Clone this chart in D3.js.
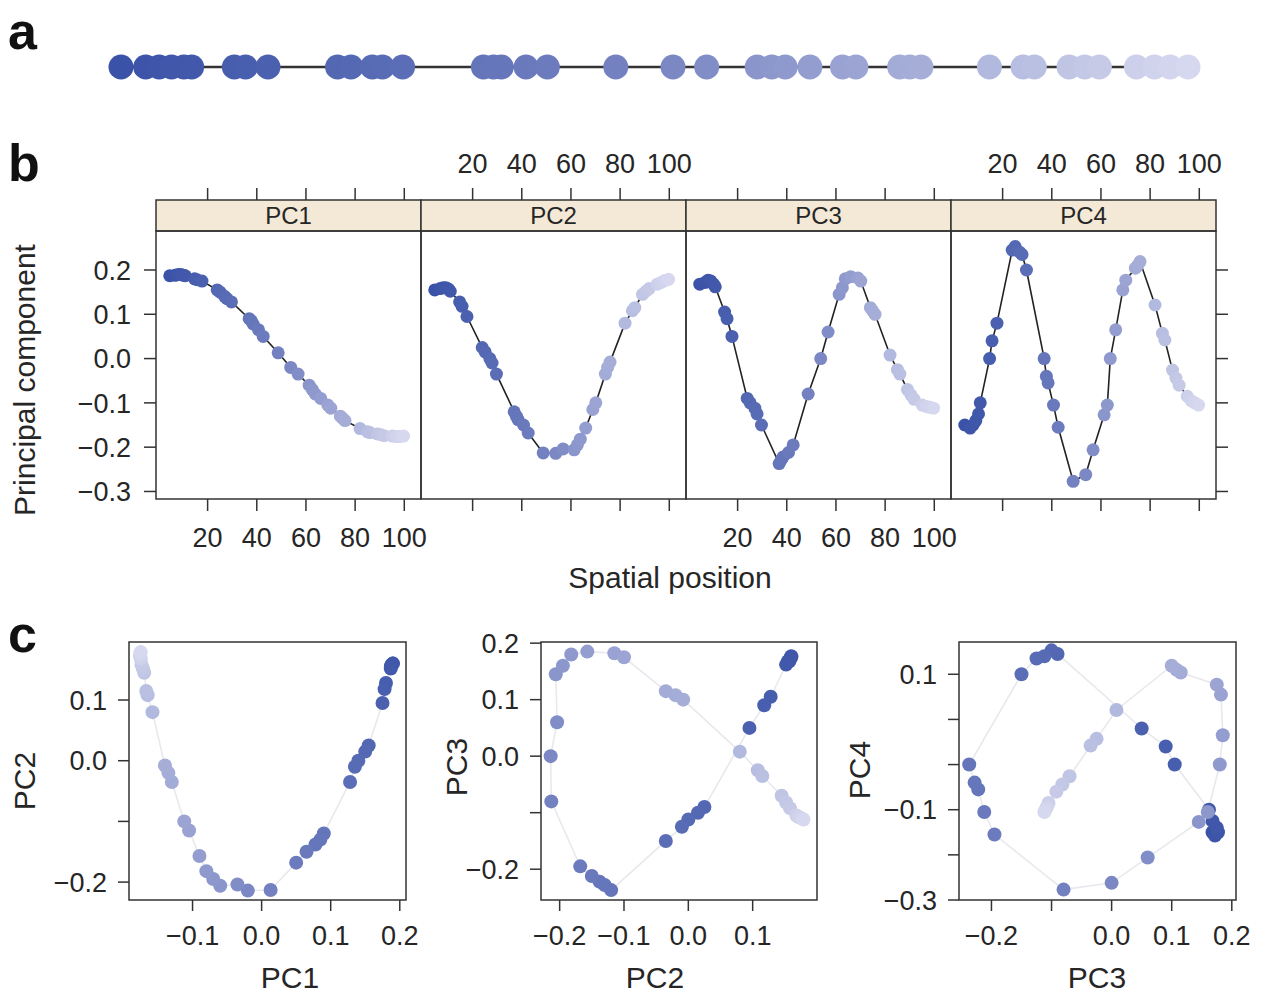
<!DOCTYPE html>
<html><head><meta charset="utf-8">
<script src="https://cdn.jsdelivr.net/npm/d3@7"></script>
<style>
body{margin:0;background:#fff}
svg{display:block}
text{font-family:"Liberation Sans",Arial,Helvetica,sans-serif;fill:#262626}
</style>
</head><body>
<svg id="chart" width="1262" height="1000"></svg>
<script>
// ---------------- data ----------------
const positions = [4.6, 6.8, 8.0, 9.1, 10.2, 10.9, 14.7, 15.7, 17.7, 23.9, 25.1, 27.0, 27.9, 29.7,
  36.9, 37.8, 38.5, 40.7, 42.6, 48.7, 53.8, 56.8, 61.3, 62.6, 63.8, 66.0, 68.9, 70.1, 74.0, 74.9, 75.9,
  82.0, 85.0, 86.0, 89.1, 90.5, 91.8, 95.1, 96.7, 98.1, 99.7];
const pc1 = [0.187, 0.188, 0.190, 0.190, 0.188, 0.187, 0.180, 0.178, 0.175, 0.155, 0.150, 0.140, 0.135, 0.128,
  0.090, 0.085, 0.078, 0.065, 0.050, 0.013, -0.020, -0.035, -0.060, -0.070, -0.080, -0.090, -0.105, -0.112,
  -0.130, -0.135, -0.140, -0.158, -0.165, -0.167, -0.170, -0.172, -0.174, -0.175, -0.176, -0.176, -0.175];
const pc2 = [0.155, 0.158, 0.160, 0.160, 0.157, 0.152, 0.128, 0.118, 0.095, 0.025, 0.015, 0.000, -0.010, -0.035,
  -0.120, -0.130, -0.138, -0.150, -0.168, -0.213, -0.214, -0.204, -0.206, -0.195, -0.182, -0.157, -0.115, -0.100,
  -0.035, -0.020, -0.008, 0.080, 0.108, 0.115, 0.145, 0.152, 0.158, 0.168, 0.172, 0.176, 0.179];
const pc3 = [0.168, 0.172, 0.177, 0.175, 0.168, 0.162, 0.105, 0.090, 0.050, -0.090, -0.100, -0.112, -0.125, -0.150,
  -0.237, -0.228, -0.222, -0.212, -0.195, -0.080, 0.000, 0.060, 0.145, 0.160, 0.180, 0.185, 0.182, 0.175,
  0.115, 0.108, 0.100, 0.008, -0.025, -0.035, -0.070, -0.082, -0.092, -0.105, -0.108, -0.110, -0.112];
const pc4 = [-0.150, -0.157, -0.150, -0.140, -0.125, -0.100, 0.000, 0.040, 0.080, 0.245, 0.253, 0.240, 0.235, 0.200,
  0.000, -0.040, -0.055, -0.105, -0.155, -0.277, -0.262, -0.206, -0.127, -0.105, 0.000, 0.065, 0.155, 0.177,
  0.204, 0.210, 0.219, 0.121, 0.057, 0.042, -0.026, -0.044, -0.060, -0.085, -0.095, -0.100, -0.105];

const pcNames = ["PC1", "PC2", "PC3", "PC4"];
const spatialTicks = [20, 40, 60, 80, 100];
const pcTicksB = [0.2, 0.1, 0.0, -0.1, -0.2, -0.3];
const xAxisTitleB = "Spatial position";
const yAxisTitleB = "Principal component";

const scatterPairs = [["PC1", "PC2"], ["PC2", "PC3"], ["PC3", "PC4"]];
const cXTicks = [[-0.1, 0, 0.1, 0.2], [-0.2, -0.1, 0, 0.1], [-0.2, -0.1, 0, 0.1, 0.2]];
const cXTickLabels = [["−0.1", "0.0", "0.1", "0.2"], ["−0.2", "−0.1", "0.0", "0.1"], ["−0.2", "", "0.0", "0.1", "0.2"]];
const cYTicks = [[0.1, 0, -0.1, -0.2], [0.2, 0.1, 0, -0.1, -0.2], [0.2, 0.1, 0, -0.1, -0.2, -0.3]];
const cYTickLabels = [["0.1", "0.0", "", "−0.2"], ["0.2", "0.1", "0.0", "", "−0.2"], ["0.1", "", "", "−0.1", "", "−0.3"]];

// ---------------- setup ----------------
const svg = d3.select("#chart");
const data = positions.map((p, i) => ({pos: p, PC1: pc1[i], PC2: pc2[i], PC3: pc3[i], PC4: pc4[i]}));
const ext = d3.extent(positions);
const color = d3.scaleLinear()
  .domain([ext[0], (ext[0] + ext[1]) / 2, ext[1]])
  .range(["#3a52a7", "#7885c3", "#d5d8ee"]);
const fmt = d3.format(".1f");
const TICK_FS = 27, TITLE_FS = 30, STRIP_FS = 24, LETTER_FS = 52;
const stroke = "#333";

// panel letters
[["a", 8, 49], ["b", 8, 181], ["c", 8, 652]].forEach(([t, x, y]) => {
  svg.append("text").attr("x", x).attr("y", y).attr("font-size", LETTER_FS)
    .attr("font-weight", "bold").style("fill", "#111").text(t);
});

// ---------------- panel a ----------------
const xA = d3.scaleLinear().domain(ext).range([121, 1188]);
const gA = svg.append("g");
gA.append("line").attr("x1", xA(ext[0])).attr("x2", xA(ext[1])).attr("y1", 67).attr("y2", 67)
  .attr("stroke", "#333").attr("stroke-width", 2.5);
gA.selectAll("circle").data(data).join("circle")
  .attr("cx", d => xA(d.pos)).attr("cy", 67).attr("r", 12.5)
  .attr("fill", d => color(d.pos));

// ---------------- panel b ----------------
const bLeft = 156, bW = 265, bTop = 231, bBottom = 499, stripTop = 200;
const yB = d3.scaleLinear().domain([-0.317, 0.288]).range([bBottom, bTop]);
pcNames.forEach((name, k) => {
  const x0 = bLeft + k * bW;
  const xB = d3.scaleLinear().domain([-1, 106.8]).range([x0, x0 + bW]);
  const g = svg.append("g");
  g.append("rect").attr("x", x0).attr("y", stripTop).attr("width", bW).attr("height", bTop - stripTop)
    .attr("fill", "#f3e9d6").attr("stroke", stroke).attr("stroke-width", 1.5);
  g.append("text").attr("x", x0 + bW / 2).attr("y", stripTop + 24).attr("text-anchor", "middle")
    .attr("font-size", STRIP_FS).text(name);
  g.append("rect").attr("x", x0).attr("y", bTop).attr("width", bW).attr("height", bBottom - bTop)
    .attr("fill", "none").attr("stroke", stroke).attr("stroke-width", 1.5);
  spatialTicks.forEach(t => {
    g.append("line").attr("x1", xB(t)).attr("x2", xB(t)).attr("y1", stripTop).attr("y2", stripTop - 12)
      .attr("stroke", stroke).attr("stroke-width", 1.5);
    g.append("line").attr("x1", xB(t)).attr("x2", xB(t)).attr("y1", bBottom).attr("y2", bBottom + 12)
      .attr("stroke", stroke).attr("stroke-width", 1.5);
  });
  const labelBottom = (k % 2 === 0);
  spatialTicks.forEach(t => {
    g.append("text").attr("x", xB(t)).attr("y", labelBottom ? bBottom + 48 : stripTop - 27)
      .attr("text-anchor", "middle").attr("font-size", TICK_FS).text(t);
  });
  const line = d3.line().x(d => xB(d.pos)).y(d => yB(d[name]));
  g.append("path").datum(data).attr("d", line).attr("fill", "none")
    .attr("stroke", "#222").attr("stroke-width", 1.6);
  g.selectAll("circle").data(data).join("circle")
    .attr("cx", d => xB(d.pos)).attr("cy", d => yB(d[name])).attr("r", 6.5)
    .attr("fill", d => color(d.pos));
});
pcTicksB.forEach(t => {
  svg.append("line").attr("x1", bLeft).attr("x2", bLeft - 12).attr("y1", yB(t)).attr("y2", yB(t))
    .attr("stroke", stroke).attr("stroke-width", 1.5);
  svg.append("line").attr("x1", bLeft + 4 * bW).attr("x2", bLeft + 4 * bW + 12).attr("y1", yB(t)).attr("y2", yB(t))
    .attr("stroke", stroke).attr("stroke-width", 1.5);
  svg.append("text").attr("x", bLeft - 25).attr("y", yB(t)).attr("dy", "0.36em")
    .attr("text-anchor", "end").attr("font-size", TICK_FS).text(fmt(t));
});
svg.append("text").attr("transform", `translate(35,${(bTop + bBottom) / 2 + 15}) rotate(-90)`)
  .attr("text-anchor", "middle").attr("font-size", TITLE_FS).text(yAxisTitleB);
svg.append("text").attr("x", 670).attr("y", 588).attr("text-anchor", "middle")
  .attr("font-size", TITLE_FS).text(xAxisTitleB);

// ---------------- panel c ----------------
const cTop = 642, cBottom = 900;
const cBoxes = [
  {x0: 129, x1: 406, xd: [-0.192, 0.209], yd: [-0.2295, 0.1956], ylabX: 35, ylabY: 781, xlabX: 290},
  {x0: 541, x1: 817, xd: [-0.229, 0.200], yd: [-0.2545, 0.202], ylabX: 467, ylabY: 767, xlabX: 655},
  {x0: 959, x1: 1236, xd: [-0.254, 0.207], yd: [-0.300, 0.2715], ylabX: 870, ylabY: 770, xlabX: 1097}
];
scatterPairs.forEach(([xn, yn], k) => {
  const b = cBoxes[k];
  const x = d3.scaleLinear().domain(b.xd).range([b.x0, b.x1]);
  const y = d3.scaleLinear().domain(b.yd).range([cBottom, cTop]);
  const g = svg.append("g");
  g.append("rect").attr("x", b.x0).attr("y", cTop).attr("width", b.x1 - b.x0).attr("height", cBottom - cTop)
    .attr("fill", "none").attr("stroke", stroke).attr("stroke-width", 1.5);
  cXTicks[k].forEach((t, i) => {
    g.append("line").attr("x1", x(t)).attr("x2", x(t)).attr("y1", cBottom).attr("y2", cBottom + 11)
      .attr("stroke", stroke).attr("stroke-width", 1.5);
    g.append("text").attr("x", x(t)).attr("y", cBottom + 45).attr("text-anchor", "middle")
      .attr("font-size", TICK_FS).text(cXTickLabels[k][i]);
  });
  cYTicks[k].forEach((t, i) => {
    g.append("line").attr("x1", b.x0).attr("x2", b.x0 - 11).attr("y1", y(t)).attr("y2", y(t))
      .attr("stroke", stroke).attr("stroke-width", 1.5);
    g.append("text").attr("x", b.x0 - 22).attr("y", y(t)).attr("dy", "0.36em").attr("text-anchor", "end")
      .attr("font-size", TICK_FS).text(cYTickLabels[k][i]);
  });
  const line = d3.line().x(d => x(d[xn])).y(d => y(d[yn]));
  g.append("path").datum(data).attr("d", line).attr("fill", "none")
    .attr("stroke", "#e8e8ee").attr("stroke-width", 1.6);
  g.selectAll("circle").data(data).join("circle")
    .attr("cx", d => x(d[xn])).attr("cy", d => y(d[yn])).attr("r", 7)
    .attr("fill", d => color(d.pos));
  g.append("text").attr("x", b.xlabX).attr("y", 988).attr("text-anchor", "middle")
    .attr("font-size", TITLE_FS).text(xn);
  g.append("text").attr("transform", `translate(${b.ylabX},${b.ylabY}) rotate(-90)`)
    .attr("text-anchor", "middle").attr("font-size", TITLE_FS).text(yn);
});
</script>
</body></html>
